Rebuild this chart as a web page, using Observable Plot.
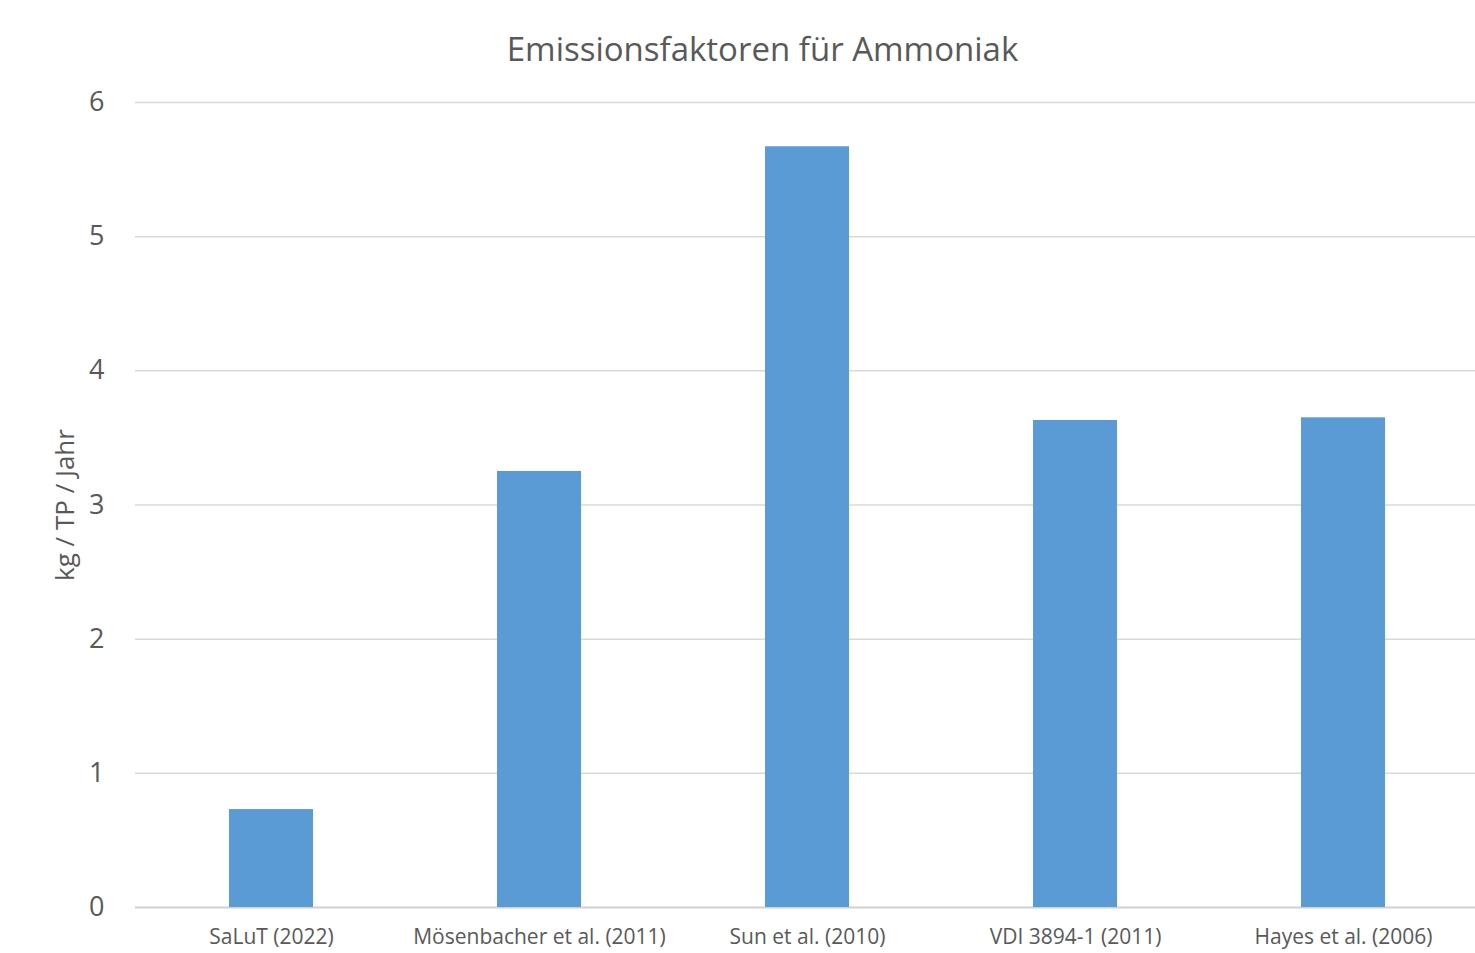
<!DOCTYPE html>
<html>
<head>
<meta charset="utf-8">
<script src="https://cdn.jsdelivr.net/npm/d3@7"></script>
<script src="https://cdn.jsdelivr.net/npm/@observablehq/plot@0.6"></script>
<style>
  html, body { margin: 0; padding: 0; background: #ffffff; overflow: hidden; }
  #chart { width: 1475px; height: 953px; }
</style>
</head>
<body>
<div id="chart"></div>
<script>
const title = "Emissionsfaktoren für Ammoniak";
const yLabel = "kg / TP / Jahr";
const categories = ["SaLuT (2022)", "Mösenbacher et al. (2011)", "Sun et al. (2010)", "VDI 3894-1 (2011)", "Hayes et al. (2006)"];
const values = [0.73, 3.25, 5.67, 3.63, 3.65];
const yTicks = [0, 1, 2, 3, 4, 5, 6];

const data = categories.map((c, i) => ({category: c, value: values[i]}));
const font = "'Open Sans', 'Noto Sans', sans-serif";

const chart = Plot.plot({
  width: 1475,
  height: 953,
  marginLeft: 135,
  marginRight: -4,
  marginTop: 102,
  marginBottom: 46,
  style: {background: "#ffffff", fontFamily: font, color: "#595959", overflow: "hidden"},
  x: {domain: categories, paddingInner: 0.687, paddingOuter: 0.3435, label: null},
  y: {domain: [0, 6], ticks: yTicks, label: null},
  marks: [
    Plot.gridY(yTicks.filter(d => d > 0), {stroke: "#d9d9d9", strokeOpacity: 1, strokeWidth: 1.5}),
    Plot.ruleY([0], {stroke: "#d0d0d0", strokeWidth: 2}),
    Plot.barY(data, {x: "category", y: "value", fill: "#5b9bd5"}),
    Plot.axisY({ticks: yTicks, tickFormat: d3.format("d"), tickSize: 0, tickPadding: 31, fontSize: 27, label: null, fill: "#595959"}),
    Plot.axisX({tickSize: 0, tickPadding: 22, fontSize: 21, label: null, fill: "#595959"}),
    Plot.text([yLabel], {frameAnchor: "left", dx: -70, rotate: -90, textAnchor: "middle", fontSize: 26, fill: "#595959"}),
    Plot.text([title], {frameAnchor: "top", dx: -45, dy: -65, fontSize: 33, fill: "#595959"})
  ]
});
document.getElementById("chart").appendChild(chart);
</script>
</body>
</html>
